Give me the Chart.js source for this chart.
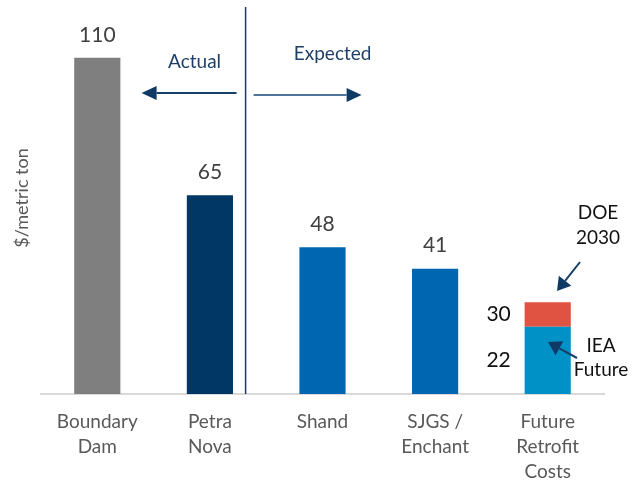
<!DOCTYPE html>
<html>
<head>
<meta charset="utf-8">
<script src="https://cdn.jsdelivr.net/npm/chart.js@4.4.1/dist/chart.umd.min.js"></script>
<style>
  html, body { margin: 0; background: #fff; }
  #wrap { width: 640px; height: 483px; }
</style>
</head>
<body>
<div id="wrap"><canvas id="chart"></canvas></div>
<script>
// データ
const categories = [["Boundary", "Dam"], ["Petra", "Nova"], ["Shand"], ["SJGS /", "Enchant"], ["Future", "Retrofit", "Costs"]];
const costs = [110, 65, 48, 41, 22];          // 最後は IEA Future
const doe2030 = [null, null, null, null, 30]; // DOE 2030 目標
const barColors = ["#7f7f7f", "#003764", "#0066b2", "#0066b2", "#0092c6"];
const doeColor = "#e05241";

const FONT = "Lato, 'Open Sans', sans-serif";

// 積み上げ用の差分
const doeExtra = doe2030.map((v, i) => v == null ? null : v - costs[i]);

function arrow(ctx, x1, y1, x2, y2, lineColor, headColor, headLen, headW) {
  const ang = Math.atan2(y2 - y1, x2 - x1);
  const bx = x2 - headLen * Math.cos(ang);
  const by = y2 - headLen * Math.sin(ang);
  ctx.strokeStyle = lineColor;
  ctx.lineWidth = 2;
  ctx.beginPath();
  ctx.moveTo(x1, y1);
  ctx.lineTo(bx, by);
  ctx.stroke();
  ctx.fillStyle = headColor;
  ctx.beginPath();
  ctx.moveTo(x2, y2);
  ctx.lineTo(bx + headW * Math.sin(ang), by - headW * Math.cos(ang));
  ctx.lineTo(bx - headW * Math.sin(ang), by + headW * Math.cos(ang));
  ctx.closePath();
  ctx.fill();
}

// ラベルや矢印を描くプラグイン
const annotations = {
  id: "annotations",
  afterDatasetsDraw(chart) {
    const ctx = chart.ctx;
    const x = chart.scales.x;
    const y = chart.scales.y;
    const base = chart.getDatasetMeta(0).data;
    const top = chart.getDatasetMeta(1).data;
    ctx.save();
    ctx.textAlign = "center";
    ctx.textBaseline = "middle";

    // 棒の上の値
    ctx.font = "21px " + FONT;
    ctx.fillStyle = "#404040";
    costs.forEach((v, i) => {
      if (doe2030[i] != null) return;
      ctx.fillText(String(v), base[i].x, base[i].y - 23);
    });

    // 積み上げ棒の左側の値
    const last = costs.length - 1;
    const bar = base[last];
    const leftX = bar.x - bar.width / 2 - 26;
    ctx.fillStyle = "#111";
    ctx.fillText(String(doe2030[last]), leftX, (top[last].y + bar.y) / 2);
    ctx.fillText(String(costs[last]), leftX, (bar.y + y.getPixelForValue(0)) / 2);

    // 実績と予定の区切り線
    const step = x.getPixelForValue(2) - x.getPixelForValue(1);
    const divX = x.getPixelForValue(1) + step * 0.317;
    ctx.strokeStyle = "#1f3864";
    ctx.lineWidth = 1.5;
    ctx.beginPath();
    ctx.moveTo(divX, 7);
    ctx.lineTo(divX, y.getPixelForValue(0));
    ctx.stroke();

    // Actual / Expected
    ctx.font = "19px " + FONT;
    ctx.fillStyle = "#1f3f66";
    ctx.fillText("Actual", divX - 51, 62);
    ctx.fillText("Expected", divX + 87, 54);
    arrow(ctx, divX - 9, 93, divX - 104, 93, "#163f6a", "#0f3a66", 15, 7);
    arrow(ctx, divX + 8, 95, divX + 116, 95, "#50749a", "#0f3a66", 15, 7);

    // DOE 2030 / IEA Future
    ctx.fillStyle = "#111";
    ctx.fillText("DOE", 598, 213);
    ctx.fillText("2030", 598, 238);
    ctx.fillText("IEA", 601, 346);
    ctx.fillText("Future", 601, 370);
    arrow(ctx, 580, 262, 557, 291, "#163f6a", "#0f3a66", 13, 8);
    arrow(ctx, 577, 358, 548, 342, "#163f6a", "#0f3a66", 13, 8);

    // 縦軸タイトル
    ctx.translate(22, 198);
    ctx.rotate(-Math.PI / 2);
    ctx.font = "18px " + FONT;
    ctx.fillStyle = "#595959";
    ctx.fillText("$/metric ton", 0, 0);
    ctx.restore();
  }
};

new Chart(document.getElementById("chart"), {
  type: "bar",
  data: {
    labels: categories,
    datasets: [
      { label: "Cost", data: costs, backgroundColor: barColors, borderWidth: 0 },
      { label: "DOE 2030", data: doeExtra, backgroundColor: doeColor, borderWidth: 0 }
    ]
  },
  options: {
    responsive: true,
    maintainAspectRatio: false,
    animation: false,
    layout: { padding: { left: 41, right: 36, top: 12, bottom: 0 } },
    datasets: { bar: { categoryPercentage: 1, barPercentage: 0.41 } },
    plugins: { legend: { display: false }, tooltip: { enabled: false } },
    scales: {
      x: {
        stacked: true,
        grid: { display: false },
        border: { color: "#d9d9d9", width: 2 },
        ticks: { color: "#595959", font: { family: FONT, size: 19, lineHeight: 1.3 }, padding: 8, maxRotation: 0 },
        afterFit(scale) { scale.height = 89; }
      },
      y: {
        stacked: true,
        display: false,
        min: 0,
        max: 125
      }
    }
  },
  plugins: [annotations]
});
</script>
</body>
</html>
